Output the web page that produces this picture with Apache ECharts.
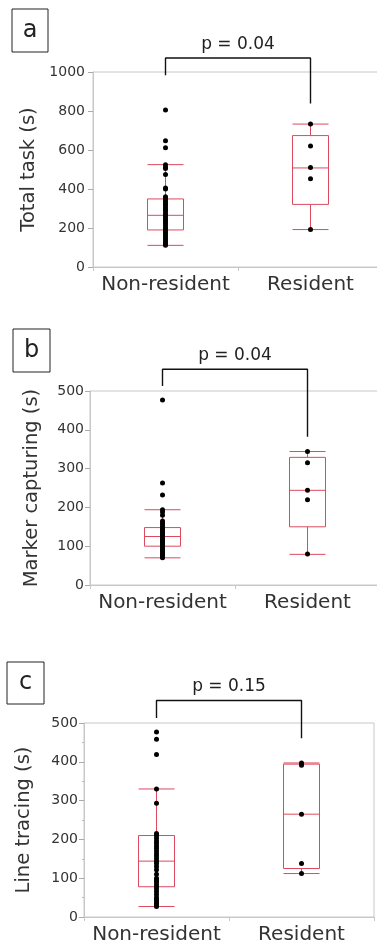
<!DOCTYPE html>
<html><head><meta charset="utf-8">
<script src="https://cdn.jsdelivr.net/npm/echarts@6/dist/echarts.min.js"></script>
<style>html,body{margin:0;padding:0;background:#fff;overflow:hidden}#c{width:400px;height:947px}</style>
</head><body><div id="c"></div>
<script>
// ---- data ----
const categories = ['Non-resident', 'Resident'];
const panelLetters = ['a', 'b', 'c'];
const yTitles = ['Total task (s)', 'Marker capturing (s)', 'Line tracing (s)'];
const yMax = [1000, 500, 500];
const yInterval = [200, 100, 100];
const pLabels = ['p = 0.04', 'p = 0.04', 'p = 0.15'];

// box statistics [min, Q1, median, Q3, max]
const boxTotalNonRes = [111, 190, 265, 349, 525];
const boxTotalRes = [192, 321, 508, 674, 733];
const boxMarkerNonRes = [70, 100, 125, 148, 194];
const boxMarkerRes = [79, 150, 244, 329, 344];
const boxLineNonRes = [27, 78, 144, 210, 330];
const boxLineRes = [112, 125, 265, 394, 397];

// individual observations
const ptsTotalNonRes = [805, 648, 612, 525, 512, 505, 475, 405, 400, 360, 352, 345, 335, 325, 318, 305, 295, 285, 272, 265, 258, 248, 240, 232, 222, 212, 200, 192, 188, 180, 170, 160, 150, 140, 130, 120, 111];
const ptsTotalRes = [733, 620, 510, 452, 192];
const ptsMarkerNonRes = [477, 263, 232, 194, 188, 180, 165, 160, 155, 150, 147, 143, 140, 137, 133, 130, 127, 125, 122, 120, 117, 113, 110, 107, 103, 100, 97, 93, 90, 87, 83, 80, 77, 73, 70];
const ptsMarkerRes = [344, 315, 244, 220, 80];
const ptsLineNonRes = [477, 458, 419, 330, 293, 215, 210, 203, 196, 190, 183, 177, 170, 163, 157, 150, 144, 138, 130, 122, 110, 100, 95, 90, 84, 78, 72, 65, 58, 50, 45, 40, 35, 30, 27];
const ptsLineRes = [397, 391, 265, 138, 112];

// significance brackets [left leg bottom, top, right leg bottom]
const bracketTotal = [983, 1072, 838];
const bracketMarker = [513, 556, 382];
const bracketLine = [513, 558, 461];

// ---- layout / style ----
const boxes = [[boxTotalNonRes, boxTotalRes], [boxMarkerNonRes, boxMarkerRes], [boxLineNonRes, boxLineRes]];
const pts = [[ptsTotalNonRes, ptsTotalRes], [ptsMarkerNonRes, ptsMarkerRes], [ptsLineNonRes, ptsLineRes]];
const brackets = [bracketTotal, bracketMarker, bracketLine];

const gridsPos = [
  {left: 93, top: 72, width: 290, height: 195},
  {left: 90, top: 391, width: 290, height: 194},
  {left: 84, top: 723, width: 290, height: 194}
];
const nameGaps = [54, 48, 50];
const labelMargins = [8, 6, 6];
const letterBoxes = [
  {x: 12, y: 9, w: 36, h: 43},
  {x: 13, y: 329, w: 37, h: 43},
  {x: 7, y: 662, w: 37, h: 42}
];
const FONT = 'DejaVu Sans';
const FRAME = '#c8c8c8';
const BOX = '#dc4a60';

const chart = echarts.init(document.getElementById('c'), null, {renderer: 'canvas'});

const grid = [], xAxis = [], yAxis = [], series = [];
for (let i = 0; i < 3; i++) {
  grid.push(Object.assign({show: true, borderColor: FRAME, borderWidth: 1, backgroundColor: 'transparent', containLabel: false}, gridsPos[i]));
  xAxis.push({
    type: 'category', gridIndex: i, data: categories,
    axisLine: {show: true, lineStyle: {color: FRAME, width: 1}},
    axisTick: {show: true, length: 4, lineStyle: {color: FRAME}},
    axisLabel: {fontSize: 20, color: '#333', fontFamily: FONT, margin: 8, interval: 0, hideOverlap: false},
    splitLine: {show: false}
  });
  yAxis.push({
    type: 'value', gridIndex: i, min: 0, max: yMax[i], interval: yInterval[i],
    name: yTitles[i], nameLocation: 'middle', nameGap: nameGaps[i],
    nameTextStyle: {fontSize: 19.5, color: '#333', fontFamily: FONT},
    axisLine: {show: true, lineStyle: {color: FRAME, width: 1}},
    axisTick: {show: true, length: 5, lineStyle: {color: '#aaa'}},
    minorTick: {show: i === 2, splitNumber: 2, length: 2, lineStyle: {color: '#bbb'}},
    axisLabel: {fontSize: 14, color: '#333', fontFamily: FONT, margin: labelMargins[i], formatter: v => String(v)},
    splitLine: {show: false}
  });
  series.push({
    type: 'boxplot', xAxisIndex: i, yAxisIndex: i,
    data: boxes[i], boxWidth: [36, 36], silent: true,
    itemStyle: {color: 'rgba(0,0,0,0)', borderColor: BOX, borderWidth: 1},
    emphasis: {disabled: true}, z: 2
  });
  series.push({
    type: 'scatter', xAxisIndex: i, yAxisIndex: i, silent: true,
    data: pts[i][0].map(v => [0, v]).concat(pts[i][1].map(v => [1, v])),
    symbolSize: 5, itemStyle: {color: '#000', opacity: 1}, z: 3
  });
  const b = brackets[i];
  series.push({
    type: 'line', xAxisIndex: i, yAxisIndex: i, silent: true, clip: false,
    data: [[0, b[0]], [0, b[1]], [1, b[1]], [1, b[2]]],
    symbol: 'none', lineStyle: {color: '#111', width: 1.4}, z: 4
  });
}

chart.setOption({animation: false, grid, xAxis, yAxis, series});

const graphic = [];
for (let i = 0; i < 3; i++) {
  const b = brackets[i];
  const p0 = chart.convertToPixel({gridIndex: i}, [0, b[1]]);
  const p1 = chart.convertToPixel({gridIndex: i}, [1, b[1]]);
  graphic.push({
    type: 'text', x: (p0[0] + p1[0]) / 2, y: p0[1] - 5,
    style: {text: pLabels[i], fontSize: 17, fontFamily: FONT, fill: '#222', textAlign: 'center', textVerticalAlign: 'bottom'}
  });
  const lb = letterBoxes[i];
  graphic.push({
    type: 'rect', shape: {x: lb.x, y: lb.y, width: lb.w, height: lb.h},
    style: {fill: '#fff', stroke: '#222', lineWidth: 1}
  });
  graphic.push({
    type: 'text', x: lb.x + lb.w / 2, y: lb.y + lb.h / 2,
    style: {text: panelLetters[i], fontSize: 24, fontFamily: FONT, fill: '#222', textAlign: 'center', textVerticalAlign: 'middle'}
  });
}
chart.setOption({graphic});
</script>
</body></html>
